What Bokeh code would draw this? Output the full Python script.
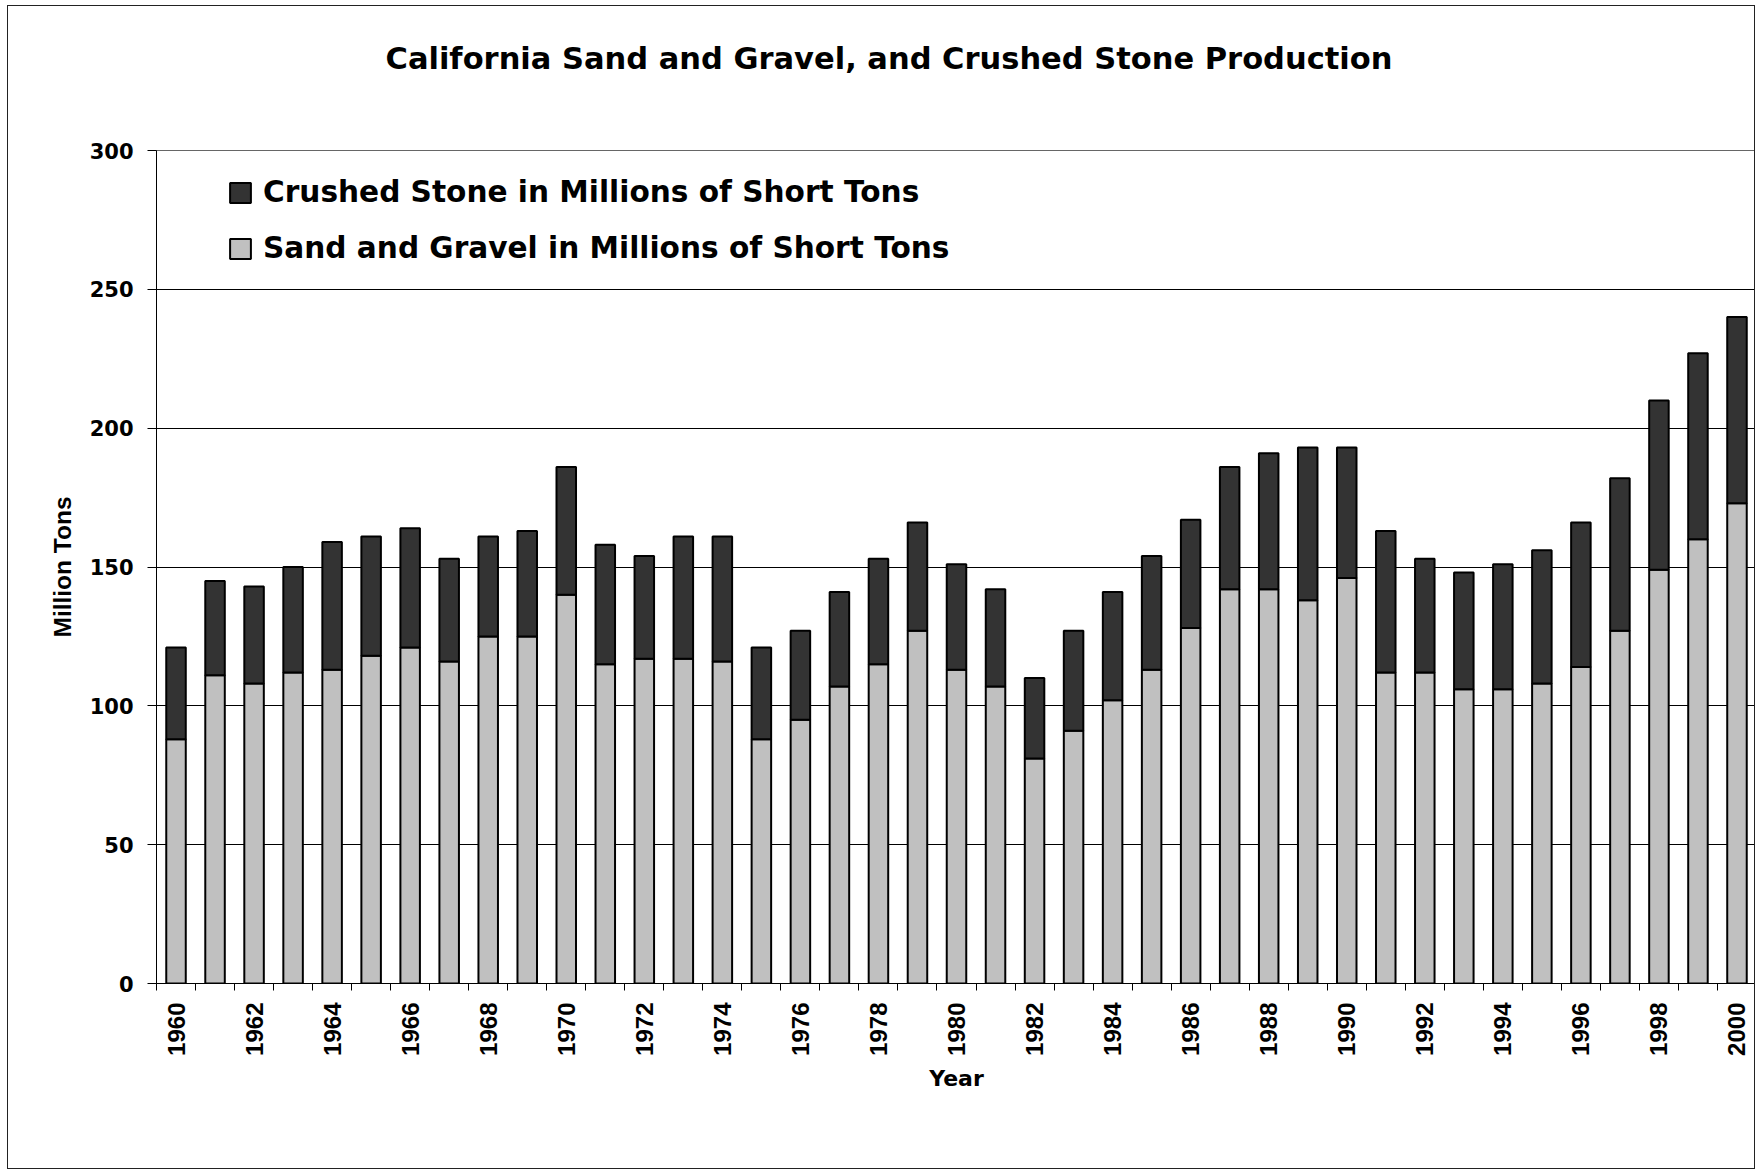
import math
from bokeh.plotting import figure
from bokeh.models import (ColumnDataSource, Range1d, FixedTicker, Legend, LegendItem, Title)
from bokeh.embed import file_html
from bokeh.resources import INLINE

# ---- data (million short tons) ----
years = list(range(1960, 2001))
sand_gravel = [88, 111, 108, 112, 113, 118, 121, 116, 125, 125,
               140, 115, 117, 117, 116, 88, 95, 107, 115, 127,
               113, 107, 81, 91, 102, 113, 128, 142, 142, 138,
               146, 112, 112, 106, 106, 108, 114, 127, 149, 160,
               173]
crushed_stone = [33, 34, 35, 38, 46, 43, 43, 37, 36, 38,
                 46, 43, 37, 44, 45, 33, 32, 34, 38, 39,
                 38, 35, 29, 36, 39, 41, 39, 44, 49, 55,
                 47, 51, 41, 42, 45, 48, 52, 55, 61, 67,
                 67]
y_ticks = [0, 50, 100, 150, 200, 250, 300]
x_label_years = list(range(1960, 2001, 2))
x_boundaries = [y - 0.5 for y in range(1960, 2002)]

title_text = "California Sand and Gravel, and Crushed Stone Production"
series_labels = ["Crushed Stone in Millions of Short Tons",
                 "Sand and Gravel in Millions of Short Tons"]

source = ColumnDataSource(dict(year=years, sand=sand_gravel, crushed=crushed_stone))

p = figure(width=1748, height=1164,
           x_range=Range1d(1959.5, 2000.5), y_range=Range1d(0, 300),
           output_backend="svg", toolbar_location=None,
           min_border_left=148, min_border_right=0,
           min_border_top=144, min_border_bottom=187)
p.outline_line_color = "#666666"
p.outline_line_width = 1
p.background_fill_color = "white"
p.border_fill_color = "white"
# outer chart-area border
p.styles = {"border": "1.5px solid #222222", "margin-left": "7px", "margin-top": "5px"}

rs = p.vbar_stack(["sand", "crushed"], x="year", width=0.5, source=source,
                  fill_color=["#C0C0C0", "#333333"], line_color="black", line_width=2)

# x axis
xa = p.xaxis[0]
xa.ticker = FixedTicker(ticks=x_label_years, minor_ticks=x_boundaries)
xa.major_tick_out = 0
xa.major_tick_in = 0
xa.minor_tick_out = 7
xa.minor_tick_in = 0
xa.minor_tick_line_color = "black"
xa.axis_line_color = "black"
xa.major_label_orientation = math.pi / 2
xa.major_label_standoff = 12
xa.major_label_text_font = "Liberation Sans"
xa.major_label_text_font_size = "24px"
xa.major_label_text_font_style = "bold"
xa.major_label_text_color = "black"
xa.axis_label = "Year"
xa.axis_label_text_font = "DejaVu Sans"
xa.axis_label_text_font_size = "22px"
xa.axis_label_text_font_style = "bold"
xa.axis_label_text_color = "black"
xa.axis_label_standoff = 7

# y axis
ya = p.yaxis[0]
ya.ticker = FixedTicker(ticks=y_ticks)
ya.major_tick_out = 9
ya.major_tick_in = 0
ya.minor_tick_line_color = None
ya.axis_line_color = "black"
ya.major_tick_line_color = "black"
ya.major_label_standoff = 14
ya.major_label_text_font = "DejaVu Sans"
ya.major_label_text_font_size = "21px"
ya.major_label_text_font_style = "bold"
ya.major_label_text_color = "black"
ya.axis_label = "Million Tons"
ya.axis_label_text_font = "Liberation Sans"
ya.axis_label_text_font_size = "24.5px"
ya.axis_label_text_font_style = "bold"
ya.axis_label_text_color = "black"
ya.axis_label_standoff = 11

p.xgrid.visible = False
p.ygrid.ticker = FixedTicker(ticks=y_ticks)
p.ygrid.grid_line_color = "black"
p.ygrid.grid_line_width = 1

legend = Legend(items=[LegendItem(label=series_labels[0], renderers=[rs[1]]),
                       LegendItem(label=series_labels[1], renderers=[rs[0]])],
                location=(71, 717), orientation="vertical",
                padding=0, margin=0, spacing=20,
                glyph_width=26, glyph_height=25, label_height=36, label_standoff=10,
                label_text_font="DejaVu Sans", label_text_font_size="29.6px",
                label_text_font_style="bold", label_text_color="black",
                border_line_color=None, background_fill_alpha=0)
p.add_layout(legend, "center")

# spacer between the frame and the title, then the title itself
spacer = Title(text=" ", text_font_size="10px", standoff=57)
p.add_layout(spacer, "above")
main_title = Title(text=title_text, align="left", offset=229, standoff=10,
                   text_font="DejaVu Sans", text_font_size="30.5px",
                   text_font_style="bold", text_color="black")
p.add_layout(main_title, "above")

open("out.html", "w").write(file_html(p, INLINE))
